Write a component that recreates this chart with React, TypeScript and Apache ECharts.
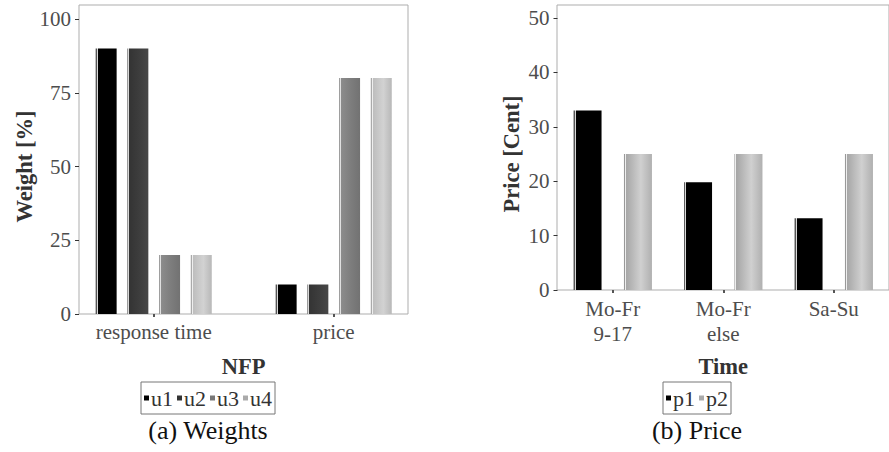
import React, { useEffect, useRef } from 'react';
import * as echarts from 'echarts';

// ---- data ----
const nfpCategories = ['response time', 'price'];
const userNames = ['u1', 'u2', 'u3', 'u4'];
const u1 = [90, 10];
const u2 = [90, 10];
const u3 = [20, 80];
const u4 = [20, 80];

const timeCategories = ['Mo-Fr\n9-17', 'Mo-Fr\nelse', 'Sa-Su'];
const priceNames = ['p1', 'p2'];
const p1 = [33, 19.8, 13.2];
const p2 = [25, 25, 25];

const FONT = 'Liberation Serif';

function barFill(edge: string, stripe: string, a: string, b: string, c: string, e1: number, e2: number) {
  return {
    type: 'linear', x: 0, y: 0, x2: 1, y2: 0,
    colorStops: [
      { offset: 0, color: edge }, { offset: e1, color: edge },
      { offset: e1, color: stripe }, { offset: e2, color: stripe },
      { offset: e2, color: a }, { offset: 0.6, color: b }, { offset: 1, color: c },
    ],
  };
}

const userFills = [
  barFill('#555', '#d8d8d8', '#000', '#000', '#000', 0.05, 0.1),
  barFill('#666', '#d8d8d8', '#343434', '#3e3e3e', '#474747', 0.05, 0.1),
  barFill('#999', '#e0e0e0', '#8c8c8c', '#7c7c7c', '#727272', 0.05, 0.1),
  barFill('#aaa', '#eeeeee', '#bdbdbd', '#d2d2d2', '#b8b8b8', 0.05, 0.1),
];
const userLegend = ['#000', '#333', '#777', '#aaa'];
const priceFills = [
  barFill('#555', '#d8d8d8', '#000', '#000', '#000', 0.035, 0.07),
  barFill('#999', '#eeeeee', '#a6a6a6', '#d0d0d0', '#b0b0b0', 0.035, 0.07),
];
const priceLegend = ['#000', '#aaa'];

const tickLabel = { fontSize: 21, color: '#4d4d4d', fontFamily: FONT };
const axisTitle = { fontSize: 22.5, fontWeight: 'bold', color: '#333', fontFamily: FONT };
const legendText = { fontSize: 22, fontFamily: FONT, color: '#333', padding: [0, 0, 0, -3] };

export default function App() {
  const ref = useRef<HTMLDivElement>(null);
  useEffect(() => {
    if (!ref.current) return;
    const chart = echarts.init(ref.current, undefined, { renderer: 'svg' });
    const userData = [u1, u2, u3, u4];
    const priceData = [p1, p2];

    const hiddenAxis = (gridIndex: number) => ({ type: 'value', gridIndex, show: false, splitLine: { show: false } });

    const option: any = {
      animation: false,
      backgroundColor: '#fff',
      grid: [
        // data grids (category bands)
        { left: 63.7, top: 19, width: 360, height: 295 },
        { left: 557.5, top: 18, width: 339, height: 272 },
        // panel frames
        { left: 79, top: 5, width: 329, height: 309, show: true, borderColor: '#adadad', borderWidth: 1 },
        { left: 557, top: 5, width: 345, height: 285, show: true, borderColor: '#adadad', borderWidth: 1 },
      ],
      xAxis: [
        {
          type: 'category', gridIndex: 0, data: nfpCategories,
          axisLine: { show: false },
          axisTick: { show: true, alignWithLabel: true, length: 3, lineStyle: { color: '#555', width: 2 } },
          axisLabel: { margin: 5, lineHeight: 25, ...tickLabel },
          name: 'NFP', nameLocation: 'middle', nameGap: 41, nameTextStyle: axisTitle,
        },
        {
          type: 'category', gridIndex: 1, data: timeCategories,
          axisLine: { show: false },
          axisTick: { show: true, alignWithLabel: true, length: 3, lineStyle: { color: '#555', width: 2 } },
          axisLabel: { margin: 6, lineHeight: 25, ...tickLabel },
          name: 'Time', nameLocation: 'middle', nameGap: 65, nameTextStyle: axisTitle,
        },
        hiddenAxis(2),
        hiddenAxis(3),
      ],
      yAxis: [
        {
          type: 'value', gridIndex: 0, min: 0, max: 100, interval: 25, offset: -15.3,
          splitLine: { show: false },
          axisLine: { show: false },
          axisTick: { show: true, length: 4, lineStyle: { color: '#333' } },
          axisLabel: { margin: 8, ...tickLabel },
          name: 'Weight [%]', nameLocation: 'middle', nameGap: 42, nameTextStyle: axisTitle,
        },
        {
          type: 'value', gridIndex: 1, min: 0, max: 50, interval: 10,
          splitLine: { show: false },
          axisLine: { show: false },
          axisTick: { show: true, length: 4, lineStyle: { color: '#333' } },
          axisLabel: { margin: 8, ...tickLabel },
          name: 'Price [Cent]', nameLocation: 'middle', nameGap: 35, nameTextStyle: axisTitle,
        },
        hiddenAxis(2),
        hiddenAxis(3),
      ],
      legend: [
        {
          data: userNames.map((n, i) => ({ name: n, itemStyle: { color: userLegend[i] } })),
          left: 141, top: 382, orient: 'horizontal', icon: 'rect',
          itemWidth: 5, itemHeight: 5, itemGap: 4, padding: [5, 3],
          borderColor: '#777', borderWidth: 1, selectedMode: false,
          textStyle: legendText,
        },
        {
          data: priceNames.map((n, i) => ({ name: n, itemStyle: { color: priceLegend[i] } })),
          left: 663, top: 382, orient: 'horizontal', icon: 'rect',
          itemWidth: 5, itemHeight: 5, itemGap: 4, padding: [5, 3],
          borderColor: '#777', borderWidth: 1, selectedMode: false,
          textStyle: legendText,
        },
      ],
      series: [
        ...userNames.map((n, s) => ({
          name: n, type: 'bar', xAxisIndex: 0, yAxisIndex: 0,
          barWidth: 21, barGap: '51%',
          itemStyle: { color: userFills[s] },
          data: userData[s],
        })),
        ...priceNames.map((n, s) => ({
          name: n, type: 'bar', xAxisIndex: 1, yAxisIndex: 1,
          barWidth: 28, barGap: '80%',
          itemStyle: { color: priceFills[s] },
          data: priceData[s],
        })),
      ],
      graphic: [
        { type: 'text', x: 208, y: 430, style: { text: '(a) Weights', fontSize: 26, fontFamily: FONT, fill: '#111', align: 'center', verticalAlign: 'middle' } },
        { type: 'text', x: 697, y: 430, style: { text: '(b) Price', fontSize: 26, fontFamily: FONT, fill: '#111', align: 'center', verticalAlign: 'middle' } },
      ],
    };
    chart.setOption(option);
    return () => chart.dispose();
  }, []);
  return <div ref={ref} style={{ position: 'absolute', left: 0, top: 0, width: 889, height: 452 }} />;
}
